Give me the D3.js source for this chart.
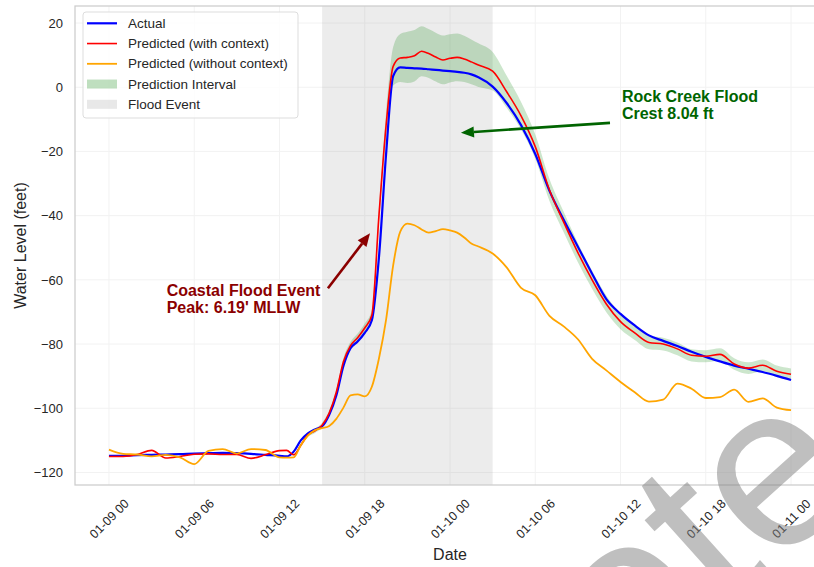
<!DOCTYPE html>
<html>
<head>
<meta charset="utf-8">
<script src="https://cdn.jsdelivr.net/npm/d3@7"></script>
<style>
  html, body { margin: 0; padding: 0; background: #fff; }
  svg { display: block; font-family: "Liberation Sans", Arial, Helvetica, sans-serif; }
</style>
</head>
<body>
<svg id="chart" width="814" height="567"></svg>
<script>
// ---- data: hours after 01-09 00:00 ----
const hours = [0,1,2,3,4,5,6,7,8,9,10,11,12,
  12.5,13,13.5,14,14.5,15,15.5,16,16.5,17,17.5,18,18.5,19,19.5,20,20.5,21,21.5,22,22.5,23,23.5,24,24.5,25,25.5,26,
  27,28,29,30,31,32,33,34,35,36,37,38,39,40,41,42,43,44,45,46,47,48];

const actual = [-114.8,-114.8,-114.6,-114.5,-114.4,-114.3,-114.1,-114.0,-113.9,-114.0,-114.2,-114.5,-114.8,
  -115.0,-113.5,-110.0,-107.8,-106.6,-105.6,-102.0,-96.0,-86.8,-81.3,-79.2,-76.5,-72.6,-53.0,-21.0,3.5,6.19,6.0,5.9,5.8,5.6,5.4,5.2,5.0,4.8,4.5,4.0,3.1,
  0.2,-5.0,-11.8,-20.8,-32.3,-41.3,-49.7,-58.1,-66.0,-70.6,-74.2,-77.3,-79.0,-80.6,-82.4,-84.0,-85.4,-86.7,-87.7,-88.7,-89.9,-91.2];

const predictedWithContext = [-115.0,-115.0,-114.4,-113.1,-115.5,-115.0,-114.3,-114.2,-114.4,-114.4,-115.6,-114.5,-113.2,
  -113.1,-114.5,-111.5,-108.3,-107.0,-105.3,-101.5,-95.0,-85.5,-80.5,-78.0,-75.0,-71.0,-40.0,-12.0,6.5,9.1,9.3,9.8,11.2,10.5,9.4,8.5,9.0,9.3,8.8,7.9,6.9,
  5.0,-1.5,-8.9,-18.5,-32.0,-42.0,-51.5,-60.0,-67.5,-73.0,-76.5,-79.5,-80.0,-81.5,-83.5,-83.8,-83.2,-86.2,-87.5,-86.6,-88.5,-89.4];

const predictedWithoutContext = [-112.9,-114.2,-114.4,-115.0,-114.5,-115.3,-117.4,-113.3,-112.7,-114.1,-112.7,-113.0,-115.3,
  -115.4,-115.3,-111.5,-108.5,-106.8,-106.2,-105.5,-103.3,-99.8,-96.0,-95.7,-96.3,-93.3,-84.5,-72.5,-55.5,-45.0,-42.5,-43.0,-44.3,-45.3,-44.8,-44.2,-44.6,-45.3,-46.8,-48.7,-49.6,
  -51.8,-56.2,-62.5,-64.8,-71.2,-74.5,-78.5,-84.6,-88.2,-91.8,-95.0,-97.9,-97.3,-92.3,-93.9,-96.8,-96.5,-94.2,-98.0,-96.9,-99.8,-100.6];

// half-width of the prediction interval around the context prediction
const intervalHalfWidth = [0,0,0,0,0,0,0,0,0,0,0,0,0,
  0,0.3,0.5,0.6,0.7,0.8,0.9,1.0,1.1,1.2,1.3,1.4,1.6,2.5,4.0,6.0,7.5,8.0,8.0,7.8,7.6,7.6,7.6,7.5,7.4,7.2,7.0,6.8,
  6.0,5.0,4.3,3.8,3.4,3.2,3.0,2.8,2.6,2.4,2.2,2.1,2.0,2.0,1.9,1.9,1.9,1.8,1.8,1.8,1.8,1.8];

const floodEventHours = [15, 27];
const yTickValues = [-120, -100, -80, -60, -40, -20, 0, 20];
const xTickHours = [0, 6, 12, 18, 24, 30, 36, 42, 48];
const legendLabels = ["Actual", "Predicted (with context)", "Predicted (without context)", "Prediction Interval", "Flood Event"];

// annotation anchors (hours, feet)
const crestNote = { lines: ["Rock Creek Flood", "Crest 8.04 ft"], text: [36.1, -4.6], from: [35.26, -11.1], to: [24.77, -14.2] };
const coastalNote = { lines: ["Coastal Flood Event", "Peak: 6.19' MLLW"], text: [4.06, -65.0], from: [15.41, -62.6], to: [18.37, -45.5] };

// ---- setup ----
const START = Date.UTC(2024, 0, 9, 0, 0);
const toDate = h => new Date(START + h * 3600e3);
const rows = hours.map((h, i) => ({
  t: toDate(h), a: actual[i], p: predictedWithContext[i], q: predictedWithoutContext[i], w: intervalHalfWidth[i]
}));

const svg = d3.select("#chart");
const frame = { left: 75, right: 825, top: 6, bottom: 485 };

const x = d3.scaleUtc().domain([toDate(-2.39), toDate(50.39)]).range([frame.left, frame.right]);
const y = d3.scaleLinear().domain([-123.9, 25.3]).range([frame.bottom, frame.top]);

svg.append("defs").append("clipPath").attr("id", "plotClip")
  .append("rect").attr("x", frame.left).attr("y", frame.top)
  .attr("width", frame.right - frame.left).attr("height", frame.bottom - frame.top);

// grid
const grid = svg.append("g");
grid.selectAll("line.h").data(yTickValues).join("line")
  .attr("x1", frame.left).attr("x2", frame.right)
  .attr("y1", d => y(d)).attr("y2", d => y(d))
  .attr("stroke", "#f2f2f2").attr("stroke-width", 1);
grid.selectAll("line.v").data(xTickHours).join("line")
  .attr("x1", d => x(toDate(d))).attr("x2", d => x(toDate(d)))
  .attr("y1", frame.top).attr("y2", frame.bottom)
  .attr("stroke", "#f2f2f2").attr("stroke-width", 1);

const plot = svg.append("g").attr("clip-path", "url(#plotClip)");

// flood event span
plot.append("rect")
  .attr("x", x(toDate(floodEventHours[0])))
  .attr("width", x(toDate(floodEventHours[1])) - x(toDate(floodEventHours[0])))
  .attr("y", frame.top).attr("height", frame.bottom - frame.top)
  .attr("fill", "#808080").attr("fill-opacity", 0.15);

// prediction interval
const band = d3.area()
  .x(d => x(d.t)).y0(d => y(d.p - d.w)).y1(d => y(d.p + d.w))
  .curve(d3.curveMonotoneX);
plot.append("path").datum(rows).attr("d", band)
  .attr("fill", "green").attr("fill-opacity", 0.2);

const lineOf = key => d3.line().x(d => x(d.t)).y(d => y(d[key])).curve(d3.curveMonotoneX);
plot.append("path").datum(rows).attr("d", lineOf("a"))
  .attr("fill", "none").attr("stroke", "blue").attr("stroke-width", 2.2);
plot.append("path").datum(rows).attr("d", lineOf("p"))
  .attr("fill", "none").attr("stroke", "red").attr("stroke-width", 1.6);
plot.append("path").datum(rows).attr("d", lineOf("q"))
  .attr("fill", "none").attr("stroke", "orange").attr("stroke-width", 1.8);

// spines
svg.append("rect")
  .attr("x", frame.left).attr("y", frame.top)
  .attr("width", frame.right - frame.left).attr("height", frame.bottom - frame.top)
  .attr("fill", "none").attr("stroke", "#cccccc").attr("stroke-width", 1.25);

// axes
const fmtTick = v => (v < 0 ? "\u2212" + Math.abs(v) : String(v));
const yAxis = svg.append("g").attr("transform", `translate(${frame.left},0)`)
  .call(d3.axisLeft(y).tickValues(yTickValues).tickSize(0).tickPadding(12).tickFormat(fmtTick));
yAxis.select(".domain").remove();
yAxis.selectAll("text").attr("font-size", 13).attr("fill", "#262626")
  .attr("font-family", "Liberation Sans, Arial, sans-serif");

const xAxis = svg.append("g").attr("transform", `translate(0,${frame.bottom})`)
  .call(d3.axisBottom(x).tickValues(xTickHours.map(toDate)).tickSize(0).tickFormat(d3.utcFormat("%m-%d %H")));
xAxis.select(".domain").remove();
xAxis.selectAll("text")
  .attr("y", null).attr("dy", null)
  .attr("transform", "translate(0,34) rotate(-45)")
  .attr("text-anchor", "middle").attr("dominant-baseline", "central")
  .attr("font-size", 12.5).attr("fill", "#262626")
  .attr("font-family", "Liberation Sans, Arial, sans-serif");

// axis titles
svg.append("text").attr("x", (frame.left + frame.right) / 2).attr("y", 560)
  .attr("text-anchor", "middle").attr("font-size", 16).attr("fill", "#262626").text("Date");
svg.append("text").attr("transform", `translate(20,${(frame.top + frame.bottom) / 2}) rotate(-90)`)
  .attr("text-anchor", "middle").attr("dominant-baseline", "central")
  .attr("font-size", 16).attr("fill", "#262626").text("Water Level (feet)");

// annotations
function drawArrow(note, color) {
  const x0 = x(toDate(note.from[0])), y0 = y(note.from[1]);
  const x1 = x(toDate(note.to[0])), y1 = y(note.to[1]);
  const ang = Math.atan2(y1 - y0, x1 - x0);
  const headLen = 13, headHalf = 5.5;
  const bx = x1 - headLen * Math.cos(ang), by = y1 - headLen * Math.sin(ang);
  svg.append("line").attr("x1", x0).attr("y1", y0).attr("x2", bx).attr("y2", by)
    .attr("stroke", color).attr("stroke-width", 2.6);
  const px = -Math.sin(ang), py = Math.cos(ang);
  svg.append("path")
    .attr("d", `M${x1},${y1}L${bx + px * headHalf},${by + py * headHalf}L${bx - px * headHalf},${by - py * headHalf}Z`)
    .attr("fill", color);
}
function drawNote(note, color) {
  const t = svg.append("text")
    .attr("x", x(toDate(note.text[0]))).attr("y", y(note.text[1]))
    .attr("font-size", 16).attr("font-weight", "bold").attr("fill", color);
  note.lines.forEach((s, i) => {
    t.append("tspan").attr("x", x(toDate(note.text[0]))).attr("dy", i === 0 ? 0 : 17.4).text(s);
  });
}
drawArrow(crestNote, "#006400");
drawNote(crestNote, "#006400");
drawArrow(coastalNote, "#8b0000");
drawNote(coastalNote, "#8b0000");

// legend
const legend = svg.append("g").attr("transform", "translate(83,12)");
legend.append("rect").attr("width", 215).attr("height", 106).attr("rx", 3)
  .attr("fill", "#ffffff").attr("fill-opacity", 0.8).attr("stroke", "#dddddd").attr("stroke-width", 1);
const swatches = [
  { kind: "line", color: "blue", width: 2.2 },
  { kind: "line", color: "red", width: 1.6 },
  { kind: "line", color: "orange", width: 1.8 },
  { kind: "patch", color: "green", opacity: 0.25 },
  { kind: "patch", color: "#808080", opacity: 0.18 }
];
legendLabels.forEach((label, i) => {
  const cy = 11.3 + i * 20.25;
  const s = swatches[i];
  if (s.kind === "line") {
    legend.append("line").attr("x1", 4).attr("x2", 34).attr("y1", cy).attr("y2", cy)
      .attr("stroke", s.color).attr("stroke-width", s.width);
  } else {
    legend.append("rect").attr("x", 4).attr("y", cy - 4.5).attr("width", 30).attr("height", 9)
      .attr("fill", s.color).attr("fill-opacity", s.opacity);
  }
  legend.append("text").attr("x", 45).attr("y", cy).attr("dominant-baseline", "central")
    .attr("font-size", 13.5).attr("fill", "#262626").text(label);
});

// watermark stamp
svg.append("text")
  .attr("transform", "translate(628,700) rotate(-42)")
  .attr("font-size", 232).attr("fill", "#808080").attr("fill-opacity", 0.5)
  .attr("font-family", "Liberation Sans, Arial, sans-serif")
  .text("ote");
</script>
</body>
</html>
